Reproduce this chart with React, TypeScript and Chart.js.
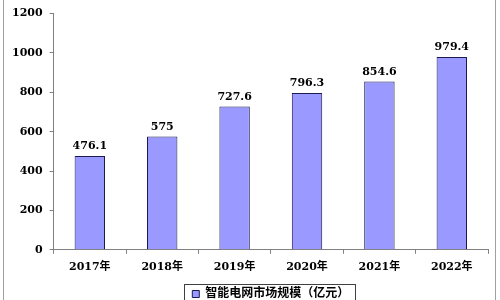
import React, { useEffect, useRef } from "react";
import { Chart, registerables } from "chart.js";

Chart.register(...registerables);

const categories = ["2017年", "2018年", "2019年", "2020年", "2021年", "2022年"];
const marketSize = [476.1, 575, 727.6, 796.3, 854.6, 979.4];
const valueLabels = ["476.1", "575", "727.6", "796.3", "854.6", "979.4"];
const seriesName = "智能电网市场规模（亿元）";
const yTicks = [0, 200, 400, 600, 800, 1000, 1200];

const FONT = "'DejaVu Serif', 'Noto Sans CJK SC', serif";

const framePlugin = {
  id: "frame",
  afterDraw(chart: any) {
    const ctx = chart.ctx;
    ctx.save();
    ctx.strokeStyle = "#a0a0a0";
    ctx.lineWidth = 1;
    ctx.beginPath();
    ctx.moveTo(3.5, 0);
    ctx.lineTo(3.5, chart.height);
    ctx.moveTo(495.5, 0);
    ctx.lineTo(495.5, chart.height);
    ctx.stroke();
    const lg = chart.legend;
    if (lg && lg.legendHitBoxes && lg.legendHitBoxes.length) {
      const hb = lg.legendHitBoxes[0];
      const left = Math.round(hb.left - 8) + 0.5;
      const right = Math.round(hb.left + hb.width + 6) + 0.5;
      const top = Math.round(hb.top - 4) + 0.5;
      ctx.strokeStyle = "#404040";
      ctx.strokeRect(left, top, right - left, 30);
    }
    ctx.restore();
  },
};

const valueLabelPlugin = {
  id: "valueLabels",
  afterDatasetsDraw(chart: any) {
    const ctx = chart.ctx;
    const meta = chart.getDatasetMeta(0);
    ctx.save();
    ctx.font = `bold 11px ${FONT}`;
    ctx.fillStyle = "#000";
    ctx.textAlign = "center";
    ctx.textBaseline = "bottom";
    meta.data.forEach((bar: any, i: number) => {
      ctx.fillText(valueLabels[i], bar.x, bar.y - 4);
    });
    ctx.restore();
  },
};

export default function App() {
  const ref = useRef<HTMLCanvasElement>(null);
  useEffect(() => {
    if (!ref.current) return;
    const chart = new Chart(ref.current, {
      type: "bar",
      data: {
        labels: categories,
        datasets: [
          {
            label: seriesName,
            data: marketSize,
            backgroundColor: "#9999ff",
            borderColor: "#1a1a50",
            borderWidth: 1,
            categoryPercentage: 1,
            barPercentage: 0.42,
          },
        ],
      },
      options: {
        animation: false,
        responsive: false,
        maintainAspectRatio: false,
        layout: { padding: { left: 5, right: 12, top: 8, bottom: 0 } },
        plugins: {
          tooltip: { enabled: false },
          legend: {
            position: "bottom",
            fullSize: false,
            labels: {
              boxWidth: 7,
              boxHeight: 7,
              padding: 7,
              color: "#000",
              font: { family: FONT, size: 12, weight: "bold" },
              generateLabels: () => [
                {
                  text: seriesName,
                  fillStyle: "#9999ff",
                  strokeStyle: "#1a1a50",
                  lineWidth: 1,
                  datasetIndex: 0,
                },
              ],
            },
          },
        },
        scales: {
          x: {
            grid: {
              drawOnChartArea: false,
              drawTicks: true,
              tickLength: 4,
              color: "#808080",
              offset: true,
            },
            border: { display: true, color: "#808080" },
            ticks: {
              color: "#000",
              padding: 7,
              font: { family: FONT, size: 11, weight: "bold" },
            },
          },
          y: {
            min: 0,
            max: 1200,
            afterBuildTicks: (axis: any) => {
              axis.ticks = yTicks.map((v) => ({ value: v }));
            },
            grid: {
              drawOnChartArea: false,
              drawTicks: true,
              tickLength: 4,
              color: "#808080",
            },
            border: { display: true, color: "#808080" },
            ticks: {
              color: "#000",
              padding: 7,
              font: { family: FONT, size: 11, weight: "bold" },
              callback: (v: any) => String(v),
            },
          },
        },
      },
      plugins: [framePlugin, valueLabelPlugin],
    } as any);
    return () => chart.destroy();
  }, []);
  return (
    <div
      style={{
        position: "fixed",
        left: 0,
        top: 0,
        width: 500,
        height: 300,
        overflow: "hidden",
        background: "#fff",
      }}
    >
      <canvas ref={ref} width={500} height={310} style={{ display: "block" }} />
    </div>
  );
}
